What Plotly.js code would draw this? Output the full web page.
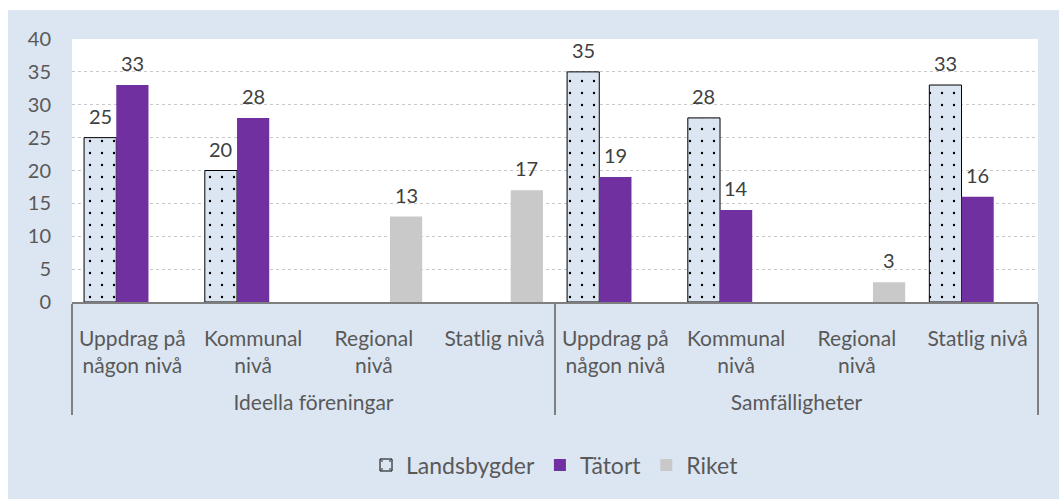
<!DOCTYPE html>
<html>
<head>
<meta charset="utf-8">
<script src="https://cdn.plot.ly/plotly-3.0.1.min.js"></script>
<style>
  html, body { margin: 0; padding: 0; background: #ffffff; }
  #chart { position: absolute; left: 8px; top: 10px; width: 1051px; height: 489px; }
</style>
</head>
<body>
<div id="chart"></div>
<script>
const groups = ["Ideella föreningar","Ideella föreningar","Ideella föreningar","Ideella föreningar",
                "Samfälligheter","Samfälligheter","Samfälligheter","Samfälligheter"];
const categoryNames = ["Uppdrag på<br>någon nivå","Kommunal<br>nivå","Regional<br>nivå","Statlig nivå",
                       "Uppdrag på<br>någon nivå","Kommunal<br>nivå","Regional<br>nivå","Statlig nivå"];
const seriesNames = ["Landsbygder", "Tätort", "Riket"];
const landsbygder = [25, 20, null, null, 35, 28, null, 33];
const tatort      = [33, 28, null, null, 19, 14, null, 16];
const riket       = [null, null, 13, 17, null, null, 3, null];
const yTicks = [0, 5, 10, 15, 20, 25, 30, 35, 40];

const FONT = "Lato, 'Open Sans', sans-serif";
const BARGAP = 0.2;

// pad every category label to three lines so the group labels sit lower, as in the reference
const categories = categoryNames.map(c => {
  const n = c.split("<br>").length;
  return c + "<br> ".repeat(3 - n);
});

const seriesData = [landsbygder, tatort, riket];
const markers = [
  {color: "#dce6f2", line: {color: "#000000", width: 1},
   pattern: {shape: ".", fgcolor: "#000000", bgcolor: "#dce6f2", size: 12, solidity: 0.03}},
  {color: "#7030a0"},
  {color: "#c9c9c9"}
];

const traces = seriesData.map((vals, j) => ({
  type: "bar", name: seriesNames[j], x: [groups, categories], y: vals,
  marker: markers[j], hoverinfo: "y"
}));

// value labels, placed in data coordinates through the axes
const annotations = [];
const slot = (1 - BARGAP) / seriesData.length;
seriesData.forEach((vals, j) => {
  vals.forEach((v, i) => {
    if (v === null) return;
    annotations.push({
      x: i + (j - (seriesData.length - 1) / 2) * slot, y: v,
      xref: "x", yref: "y", text: String(v), showarrow: false,
      yanchor: "bottom", yshift: 8,
      font: {family: FONT, size: 20, color: "#404040"}
    });
  });
});

const layout = {
  width: 1051, height: 489,
  paper_bgcolor: "#dce6f2",
  plot_bgcolor: "#ffffff",
  margin: {l: 64, r: 21, t: 29, b: 195},
  barmode: "group", bargap: BARGAP, bargroupgap: 0,
  font: {family: FONT, size: 20, color: "#595959"},
  showlegend: true,
  legend: {orientation: "h", x: 0.5, xanchor: "center", y: -0.62, yanchor: "middle",
           font: {family: FONT, size: 23, color: "#595959"}, bgcolor: "rgba(0,0,0,0)"},
  annotations: annotations,
  xaxis: {
    type: "multicategory",
    showline: true, linecolor: "#7f7f7f", linewidth: 1.5,
    showdividers: true, dividercolor: "#7f7f7f", dividerwidth: 1.5,
    ticks: "", tickfont: {family: FONT, size: 21, color: "#595959"},
    ticklabelstandoff: 17,
    showgrid: false, zeroline: false
  },
  yaxis: {
    range: [0, 40], tickvals: yTicks, ticktext: yTicks.map(String),
    showgrid: true, gridcolor: "#c8c8c8", griddash: "dot", gridwidth: 1,
    zeroline: false, showline: false, ticks: "",
    tickfont: {family: FONT, size: 20, color: "#595959"},
    ticklabelstandoff: 20
  }
};

Plotly.newPlot("chart", traces, layout, {displayModeBar: false, staticPlot: true});
</script>
</body>
</html>
